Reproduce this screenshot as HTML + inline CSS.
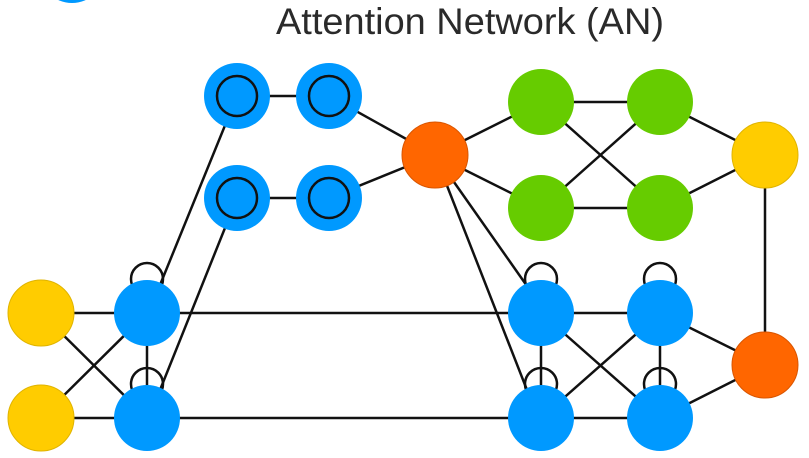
<!DOCTYPE html>
<html><head><meta charset="utf-8"><style>
html,body{margin:0;padding:0;background:#fff;}
svg{display:block;}
</style></head><body>
<svg width="809" height="458" viewBox="0 0 809 458" xmlns="http://www.w3.org/2000/svg">
<circle cx="72" cy="-30" r="33" fill="#0099ff"/>
<text x="276" y="34" textLength="388" lengthAdjust="spacingAndGlyphs" font-family="Liberation Sans, sans-serif" font-size="37" fill="#2a2a2a">Attention Network (AN)</text>
<g stroke="#111" stroke-width="2.5" fill="none">
<circle cx="147" cy="279" r="16"/>
<circle cx="147" cy="384" r="16"/>
<circle cx="541" cy="279" r="16"/>
<circle cx="541" cy="384" r="16"/>
<circle cx="660" cy="279" r="16"/>
<circle cx="660" cy="384" r="16"/>
<line x1="41" y1="313" x2="147" y2="313"/>
<line x1="41" y1="418" x2="147" y2="418"/>
<line x1="41" y1="313" x2="147" y2="418"/>
<line x1="41" y1="418" x2="147" y2="313"/>
<line x1="147" y1="313" x2="147" y2="418"/>
<line x1="147" y1="313" x2="541" y2="313"/>
<line x1="147" y1="418" x2="541" y2="418"/>
<line x1="160" y1="285" x2="237" y2="96"/>
<line x1="160" y1="390" x2="237" y2="198"/>
<line x1="237" y1="96" x2="329" y2="96"/>
<line x1="237" y1="198" x2="329" y2="198"/>
<line x1="329" y1="96" x2="435" y2="155"/>
<line x1="329" y1="198" x2="435" y2="155"/>
<line x1="435" y1="155" x2="541" y2="102"/>
<line x1="435" y1="155" x2="541" y2="208"/>
<line x1="541" y1="102" x2="660" y2="102"/>
<line x1="541" y1="208" x2="660" y2="208"/>
<line x1="541" y1="102" x2="660" y2="208"/>
<line x1="541" y1="208" x2="660" y2="102"/>
<line x1="660" y1="102" x2="765" y2="155"/>
<line x1="660" y1="208" x2="765" y2="155"/>
<line x1="765" y1="155" x2="765" y2="365"/>
<line x1="435" y1="155" x2="527" y2="286"/>
<line x1="435" y1="155" x2="527" y2="390"/>
<line x1="541" y1="313" x2="660" y2="313"/>
<line x1="541" y1="418" x2="660" y2="418"/>
<line x1="541" y1="313" x2="541" y2="418"/>
<line x1="660" y1="313" x2="660" y2="418"/>
<line x1="541" y1="313" x2="660" y2="418"/>
<line x1="541" y1="418" x2="660" y2="313"/>
<line x1="660" y1="313" x2="765" y2="365"/>
<line x1="660" y1="418" x2="765" y2="365"/>
</g>
<g>
<circle cx="41" cy="313" r="33" fill="#ffcc00" stroke="#e0b400" stroke-width="1"/>
<circle cx="41" cy="418" r="33" fill="#ffcc00" stroke="#e0b400" stroke-width="1"/>
<circle cx="147" cy="313" r="33" fill="#0099ff"/>
<circle cx="147" cy="418" r="33" fill="#0099ff"/>
<circle cx="541" cy="313" r="33" fill="#0099ff"/>
<circle cx="541" cy="418" r="33" fill="#0099ff"/>
<circle cx="660" cy="313" r="33" fill="#0099ff"/>
<circle cx="660" cy="418" r="33" fill="#0099ff"/>
<circle cx="765" cy="365" r="33" fill="#ff6600" stroke="#d95500" stroke-width="1"/>
<circle cx="435" cy="155" r="33" fill="#ff6600" stroke="#d95500" stroke-width="1"/>
<circle cx="541" cy="102" r="33" fill="#66cc00"/>
<circle cx="660" cy="102" r="33" fill="#66cc00"/>
<circle cx="541" cy="208" r="33" fill="#66cc00"/>
<circle cx="660" cy="208" r="33" fill="#66cc00"/>
<circle cx="765" cy="155" r="33" fill="#ffcc00" stroke="#e0b400" stroke-width="1"/>
<circle cx="237" cy="96" r="33" fill="#0099ff"/>
<circle cx="329" cy="96" r="33" fill="#0099ff"/>
<circle cx="237" cy="198" r="33" fill="#0099ff"/>
<circle cx="329" cy="198" r="33" fill="#0099ff"/>
</g>
<g stroke="#111" stroke-width="2.5" fill="none">
<circle cx="237" cy="96" r="20"/>
<circle cx="329" cy="96" r="20"/>
<circle cx="237" cy="198" r="20"/>
<circle cx="329" cy="198" r="20"/>
</g>
</svg>
</body></html>
